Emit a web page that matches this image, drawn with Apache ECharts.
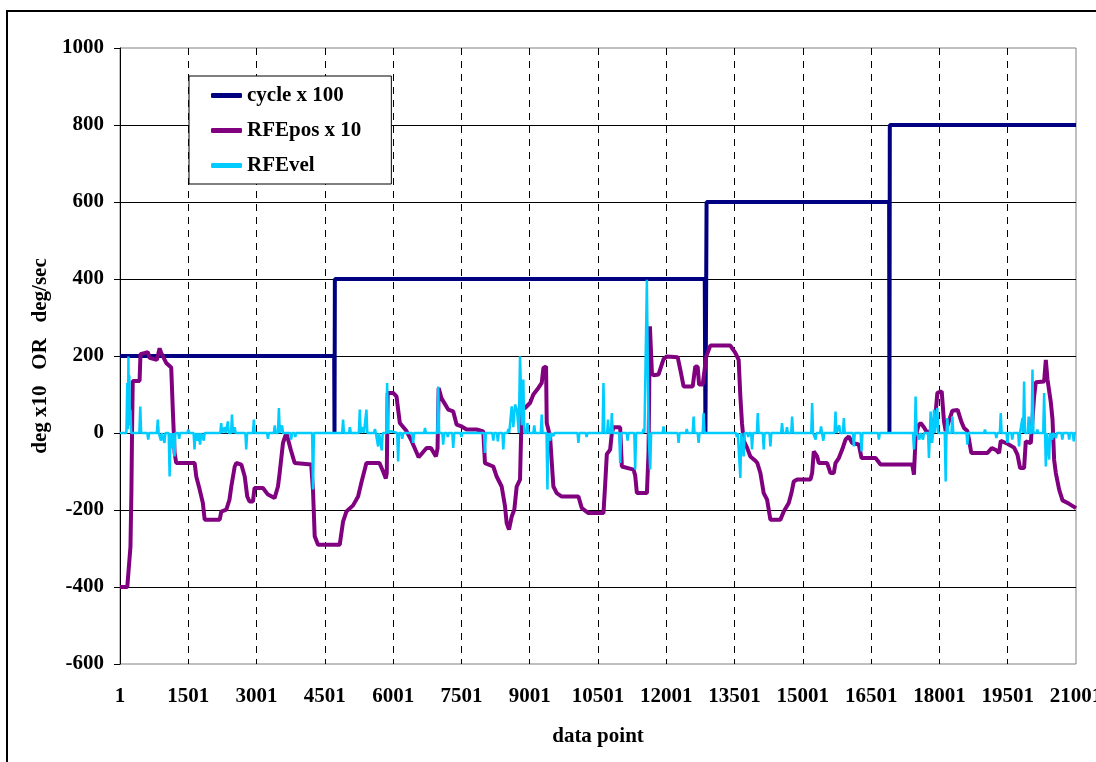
<!DOCTYPE html>
<html>
<head>
<meta charset="utf-8">
<script src="https://cdn.jsdelivr.net/npm/echarts@6/dist/echarts.min.js"></script>
<style>
html, body { margin: 0; padding: 0; background: #fff; }
#main { width: 1096px; height: 762px; }
</style>
</head>
<body>
<div id="main"></div>
<script>
// x = data point - 1, y = value
var seriesNames = ['cycle x 100', 'RFEpos x 10', 'RFEvel'];

var cyclePts = [[0,200],[4705,200],[4712,0],[4720,400],[12845,400],[12860,0],[12885,600],
    [16895,600],[16902,0],[16910,800],[21000,800]];

var posPts = [[0,-400],[160,-400],[210,-325],[230,-295],[250,-155],[265,10],[280,135],[430,135],[450,205],
    [610,210],[650,195],[810,190],[870,220],[905,208],[1015,182],[1125,170],[1160,60],[1200,-52],[1235,-78],
    [1640,-78],[1675,-113],[1750,-147],[1820,-182],[1860,-225],[2190,-225],[2225,-204],[2335,-199],[2405,-173],
    [2445,-139],[2520,-87],[2555,-78],[2665,-82],[2740,-113],[2795,-165],[2845,-178],[2920,-178],[2955,-143],
    [3140,-143],[3250,-160],[3395,-169],[3470,-139],[3507,-104],[3580,-26],[3654,0],[3750,-43],[3837,-78],
    [4200,-82],[4240,-150],[4277,-268],[4350,-290],[4827,-290],[4900,-230],[4973,-204],[5120,-188],[5230,-165],
    [5304,-128],[5413,-78],[5700,-78],[5780,-100],[5840,-118],[5860,-104],[5880,104],[6000,104],[6074,95],
    [6147,26],[6294,5],[6403,-20],[6560,-63],[6734,-39],[6830,-39],[6940,-61],[6975,-40],[7000,117],[7063,90],
    [7210,61],[7320,56],[7394,22],[7504,17],[7614,9],[7834,9],[7980,4],[8017,-78],[8200,-87],[8274,-113],
    [8384,-139],[8457,-190],[8494,-234],[8545,-251],[8604,-217],[8662,-199],[8714,-139],[8787,-121],[8824,61],
    [8897,65],[9007,78],[9080,100],[9190,117],[9264,130],[9300,169],[9359,173],[9374,26],[9447,-9],[9520,-139],
    [9594,-156],[9704,-165],[10070,-165],[10144,-195],[10290,-208],[10620,-208],[10657,-135],[10694,-55],
    [10767,-43],[10804,0],[10840,15],[10987,15],[11024,-87],[11060,-90],[11280,-95],[11317,-110],[11354,-156],
    [11574,-156],[11610,-50],[11640,277],[11684,156],[11720,150],[11830,152],[11940,192],[12013,199],[12250,197],
    [12307,165],[12380,121],[12580,121],[12637,173],[12690,172],[12720,126],[12800,126],[12879,199],[12967,227],
    [13407,227],[13517,208],[13590,190],[13627,95],[13663,25],[13700,-20],[13774,-38],[13847,-61],[13957,-72],
    [14000,-78],[14067,-104],[14140,-156],[14214,-173],[14287,-225],[14507,-225],[14580,-204],[14690,-182],
    [14749,-156],[14800,-126],[14874,-121],[15167,-121],[15204,-104],[15240,-48],[15314,-61],[15350,-78],
    [15534,-78],[15607,-104],[15680,-104],[15717,-78],[15790,-65],[15864,-43],[15937,-17],[16010,-9],[16084,-26],
    [16230,-30],[16289,-65],[16597,-65],[16707,-82],[17404,-82],[17440,-108],[17477,-9],[17540,20],[17587,26],
    [17660,15],[17734,0],[17844,9],[17917,52],[17954,104],[18050,108],[18100,30],[18137,5],[18174,9],[18284,58],
    [18400,60],[18480,30],[18540,13],[18614,5],[18650,-17],[18700,-52],[19054,-52],[19150,-39],[19250,-45],
    [19310,-52],[19347,-20],[19494,-28],[19640,-38],[19714,-56],[19772,-91],[19860,-91],[19897,-22],[20007,-26],
    [20080,95],[20117,132],[20300,134],[20337,190],[20374,139],[20447,80],[20484,35],[20520,-70],[20557,-104],
    [20630,-147],[20704,-175],[20850,-184],[21000,-195]];

var velPts = [[0,0],[140,0],[160,130],[175,10],[185,199],[195,40],[205,150],[215,20],[230,60],[245,0],
    [425,0],[445,69],[465,0],[600,0],[620,-17],[640,0],[810,0],[830,35],[850,0],[880,0],[900,-20],[920,0],
    [957,0],[977,-26],[997,0],[1070,0],[1090,-113],[1110,0],[1120,0],[1140,-40],[1160,0],[1177,0],[1197,-61],
    [1217,0],[1280,0],[1300,-15],[1320,0],[1480,0],[1500,9],[1520,0],[1617,0],[1637,-43],[1657,0],[1680,0],
    [1700,-20],[1720,0],[1740,0],[1760,-30],[1780,0],[1820,0],[1840,-20],[1860,0],[2203,0],[2223,26],[2243,0],
    [2280,0],[2300,15],[2320,0],[2350,0],[2370,30],[2390,0],[2440,0],[2460,48],[2480,0],[2500,0],[2520,15],
    [2540,0],[2753,0],[2773,-43],[2793,0],[2920,0],[2940,35],[2960,0],[3230,0],[3250,-15],[3270,0],[3380,0],
    [3400,20],[3420,0],[3470,0],[3490,65],[3510,0],[3540,0],[3560,20],[3580,0],[3740,0],[3760,-17],[3780,0],
    [3830,0],[3850,-10],[3870,0],[4220,0],[4240,-147],[4260,0],[4880,0],[4900,35],[4920,0],[5030,0],[5050,15],
    [5070,0],[5247,0],[5267,61],[5287,0],[5320,0],[5340,15],[5360,0],[5393,0],[5413,61],[5433,0],[5580,0],
    [5600,10],[5620,0],[5650,0],[5670,-35],[5690,0],[5730,0],[5750,-45],[5770,0],[5848,0],[5868,130],[5888,0],
    [5930,0],[5950,5],[5970,0],[6090,0],[6110,-74],[6130,0],[6180,0],[6200,-15],[6220,0],[6420,0],[6440,-26],
    [6460,0],[6680,0],[6700,13],[6720,0],[6970,0],[6990,121],[7010,0],[7080,0],[7100,-30],[7120,0],[7180,0],
    [7200,-10],[7220,0],[7300,0],[7320,-39],[7340,0],[7480,0],[7500,-10],[7520,0],[7997,0],[8017,-52],[8037,0],
    [8180,0],[8200,-20],[8220,0],[8280,0],[8300,-22],[8320,0],[8400,0],[8420,-43],[8440,0],[8510,0],[8530,10],
    [8550,0],[8584,0],[8604,69],[8640,15],[8677,74],[8720,60],[8760,0],[8787,199],[8830,20],[8860,139],[8880,0],
    [8930,0],[8950,26],[8970,0],[9080,0],[9100,20],[9120,0],[9244,0],[9264,48],[9284,0],[9369,0],[9389,-147],
    [9409,0],[9430,0],[9450,-20],[9470,0],[9500,0],[9520,-8],[9540,0],[10050,0],[10070,-26],[10090,0],
    [10230,0],[10250,-10],[10270,0],[10600,0],[10620,130],[10640,0],[10700,0],[10720,35],[10740,0],[10784,0],
    [10804,52],[10824,0],[10967,0],[10987,-78],[11007,0],[11130,0],[11150,-20],[11170,0],[11297,0],[11317,-95],
    [11337,0],[11480,0],[11500,10],[11520,0],[11554,0],[11574,398],[11610,0],[11647,-95],[11667,0],[11920,0],
    [11940,17],[11960,0],[12250,0],[12270,-26],[12290,0],[12430,0],[12450,10],[12470,0],[12580,0],[12600,43],
    [12620,0],[12690,0],[12710,-26],[12730,0],[12800,0],[12820,52],[12840,0],[13530,0],[13550,-10],[13570,0],
    [13607,0],[13627,-117],[13647,0],[13680,0],[13700,-61],[13720,0],[13780,0],[13800,-10],[13820,0],[13864,0],
    [13884,-43],[13904,0],[13990,0],[14010,52],[14030,0],[14120,0],[14140,-43],[14160,0],[14267,0],[14287,-35],
    [14307,0],[14523,0],[14543,26],[14563,0],[14630,0],[14650,15],[14670,0],[14744,0],[14764,43],[14784,0],
    [15184,0],[15204,78],[15224,0],[15260,0],[15280,-17],[15300,0],[15380,0],[15400,17],[15420,0],[15430,0],
    [15450,-20],[15470,0],[15697,0],[15717,56],[15737,0],[15780,0],[15800,20],[15820,0],[15880,0],[15900,39],
    [15920,0],[16100,0],[16120,-35],[16140,0],[16269,0],[16289,-48],[16309,0],[16650,0],[16670,-17],[16690,0],
    [17420,0],[17440,-43],[17460,0],[17477,95],[17500,0],[17540,0],[17560,-17],[17580,0],[17620,0],[17640,-17],
    [17660,0],[17750,0],[17770,-65],[17790,0],[17807,56],[17825,0],[17840,-26],[17860,0],[17880,61],[17900,0],
    [17934,0],[17954,65],[17974,0],[18117,0],[18137,-126],[18155,0],[18174,39],[18194,0],[18264,0],[18284,43],
    [18304,0],[18594,0],[18614,-30],[18634,0],[18980,0],[19000,9],[19020,0],[19230,0],[19250,-13],[19270,0],
    [19327,0],[19347,52],[19367,0],[19474,0],[19494,-26],[19514,0],[19580,0],[19600,-17],[19620,0],[19730,0],
    [19750,-35],[19770,0],[19804,0],[19824,39],[19840,0],[19860,134],[19880,0],[19940,0],[19960,43],[19980,0],
    [20024,0],[20044,165],[20064,0],[20130,0],[20150,9],[20170,0],[20280,0],[20300,104],[20320,0],[20337,-87],
    [20360,0],[20390,0],[20410,-69],[20430,0],[20460,0],[20480,-17],[20500,0],[20540,0],[20560,-13],[20580,0],
    [20680,0],[20700,-17],[20720,0],[20830,0],[20850,-17],[20870,0],[20930,0],[20950,-22],[20970,0],[21000,0]];

var xStep = 1500;
var yTicks = { min: -600, max: 1000, step: 200 };

var font = 'Liberation Serif, Times New Roman, serif';
var txt = { fontFamily: font, fontWeight: 'bold', fontSize: 21, color: '#000' };

var chart = echarts.init(document.getElementById('main'));

chart.setOption({
    animation: false,
    backgroundColor: '#fff',
    graphic: [{
        type: 'rect',
        shape: { x: 7, y: 11, width: 1200, height: 900 },
        style: { fill: 'none', stroke: '#000', lineWidth: 2 },
        silent: true
    }],
    grid: {
        left: 120, right: 20, top: 48, bottom: 98,
        outerBoundsMode: 'none',
        containLabel: false,
        show: true, borderColor: '#808080', borderWidth: 1
    },
    legend: {
        data: seriesNames.map(function (n) { return { name: n, icon: 'roundRect' }; }),
        orient: 'vertical',
        left: 189, top: 76,
        padding: [9, 30, 8, 22],
        itemWidth: 31, itemHeight: 5, itemGap: 14,
        backgroundColor: '#fff', borderColor: '#000', borderWidth: 1,
        textStyle: Object.assign({ lineHeight: 20 }, txt)
    },
    xAxis: {
        type: 'value',
        min: 0, max: 21000, interval: xStep,
        name: 'data point',
        nameLocation: 'middle',
        nameGap: 62,
        nameTextStyle: txt,
        axisLine: { show: false },
        axisTick: { show: false },
        axisLabel: Object.assign({ margin: 22, formatter: function (v) { return String(v + 1); } }, txt),
        splitLine: {
            show: true, showMinLine: false, showMaxLine: false,
            lineStyle: { color: '#000', width: 1, type: [7, 6] }
        }
    },
    yAxis: {
        type: 'value',
        min: yTicks.min, max: yTicks.max, interval: yTicks.step,
        name: 'deg x10   OR   deg/sec',
        nameLocation: 'middle',
        nameGap: 65,
        nameTextStyle: txt,
        axisLine: { show: true, lineStyle: { color: '#000', width: 1 } },
        axisTick: { show: true, length: 6, lineStyle: { color: '#000' } },
        axisLabel: Object.assign({ margin: 16, formatter: function (v) { return String(v); } }, txt),
        splitLine: {
            show: true, showMinLine: false, showMaxLine: false,
            lineStyle: { color: '#000', width: 1 }
        }
    },
    series: [{
        name: seriesNames[0],
        type: 'line',
        symbol: 'none',
        data: cyclePts,
        color: '#000080',
        lineStyle: { color: '#000080', width: 4 }
    }, {
        name: seriesNames[1],
        type: 'line',
        symbol: 'none',
        data: posPts,
        color: '#800080',
        lineStyle: { color: '#800080', width: 4 }
    }, {
        name: seriesNames[2],
        type: 'line',
        symbol: 'none',
        data: velPts,
        color: '#00CCFF',
        lineStyle: { color: '#00CCFF', width: 2.5 }
    }]
});
</script>
</body>
</html>
